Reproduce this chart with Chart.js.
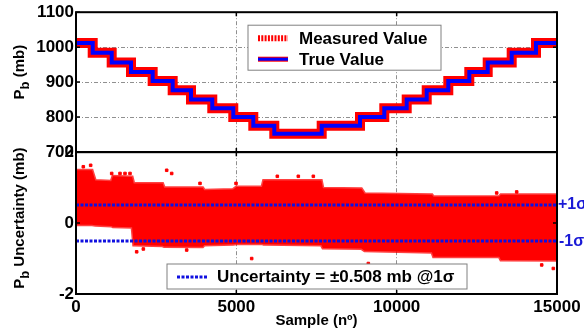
<!DOCTYPE html>
<html>
<head>
<meta charset="utf-8">
<script src="https://cdn.jsdelivr.net/npm/chart.js@4.4.0/dist/chart.umd.min.js"></script>
<style>
  html, body { margin: 0; padding: 0; background: #fff; }
  #wrap { position: relative; width: 584px; height: 333px; overflow: hidden; }
  #wrap canvas { position: absolute; left: 0; }
  #topChart { top: 0; }
  #bottomChart { top: 140px; }
</style>
</head>
<body>
<div id="wrap">
  <canvas id="topChart" width="584" height="172" style="width:584px;height:172px"></canvas>
  <canvas id="bottomChart" width="584" height="193" style="width:584px;height:193px"></canvas>
</div>
<script>
// pressure staircase: sample where each level starts, and the level (mb)
const stepStart = [0, 521, 1113, 1715, 2391, 3015, 3586, 4250, 4905, 5529, 6184, 7662, 8857, 9614, 10313, 10937, 11610, 12265, 12839, 13587, 14345, 15000];
const trueLevels = [1012, 984, 956, 929, 903, 877, 850, 825, 800, 775, 752, 775, 800, 825, 850, 877, 903, 929, 956, 984, 1012, 1012];
const measuredLevels = [1012, 984, 956, 929, 903, 877, 850, 825, 800, 775, 752, 775, 800, 825, 850, 877, 903, 929, 956, 984, 1012, 1012];

// uncertainty cloud: envelope
const bandX = [0, 500, 600, 1100, 1150, 1750, 1800, 2700, 2750, 3950, 4000, 4900, 5000, 5800, 5850, 7650, 7700, 8900, 9000, 11100, 11150, 13200, 13250, 15000];
const bandUpper = [1.49, 1.49, 1.2, 1.18, 1.32, 1.30, 1.12, 1.12, 1.0, 1.0, 0.93, 0.95, 1.02, 1.02, 1.2, 1.2, 0.98, 0.97, 0.83, 0.8, 0.74, 0.75, 0.8, 0.8];
const bandLower = [-0.05, -0.05, -0.06, -0.08, -0.1, -0.12, -0.62, -0.64, -0.66, -0.67, -0.62, -0.6, -0.58, -0.58, -0.6, -0.62, -0.7, -0.72, -0.78, -0.82, -0.95, -0.95, -1.04, -1.05];
// stray points outside the dense band
const outlierX = [228, 457, 1113, 1372, 1528, 1684, 2828, 2984, 3867, 4990, 6278, 6933, 7401, 13119, 13743, 1892, 2100, 3452, 5479, 9116, 14523, 14885];
const outlierY = [1.59, 1.63, 1.40, 1.40, 1.40, 1.40, 1.49, 1.40, 1.12, 1.12, 1.32, 1.32, 1.32, 0.85, 0.88, -0.81, -0.73, -0.76, -1.0, -1.14, -1.18, -1.28];

const uncertainty = 0.508;
const sigmaX = [0, 15000];

const xTicks = [0, 5000, 10000, 15000];
const topTicks = [700, 800, 900, 1000, 1100];
const bottomTicks = [-2, 0, 2];

const FONT = "'Liberation Sans', Arial, sans-serif";
const RED = '#ff0000';
const BLUE = '#0000ff';
const SIGMA_BLUE = '#1010e0';

const pts = (xs, ys) => xs.map((x, i) => ({ x: x, y: ys[i] }));

const gridOpts = { color: '#909090', lineWidth: 1, drawTicks: false };
const dashOpts = { display: false, dash: [4, 2, 1, 2] };
const plainLabel = v => String(v);

// black box + inward tick marks around the plot area
const framePlugin = {
  id: 'frame',
  afterDraw(chart) {
    const { ctx, chartArea: a, scales } = chart;
    ctx.save();
    ctx.strokeStyle = '#000';
    ctx.lineWidth = 1.5;
    scales.y.ticks.forEach(t => {
      const y = scales.y.getPixelForValue(t.value);
      ctx.beginPath();
      ctx.moveTo(a.left, y); ctx.lineTo(a.left + 4, y);
      ctx.moveTo(a.right, y); ctx.lineTo(a.right - 4, y);
      ctx.stroke();
    });
    scales.x.ticks.forEach(t => {
      const x = scales.x.getPixelForValue(t.value);
      ctx.beginPath();
      ctx.moveTo(x, a.top); ctx.lineTo(x, a.top + 4);
      ctx.moveTo(x, a.bottom); ctx.lineTo(x, a.bottom - 4);
      ctx.stroke();
    });
    ctx.lineWidth = 2;
    ctx.strokeRect(a.left, a.top, a.right - a.left, a.bottom - a.top);
    ctx.restore();
  }
};

// rotated y title with a subscript
function drawYTitle(ctx, parts, cx, cy) {
  ctx.save();
  ctx.translate(cx, cy);
  ctx.rotate(-Math.PI / 2);
  ctx.fillStyle = '#000';
  ctx.textBaseline = 'alphabetic';
  ctx.textAlign = 'left';
  let total = 0;
  parts.forEach(p => {
    ctx.font = 'bold ' + (p.sub ? 13 : 15) + 'px ' + FONT;
    p.w = ctx.measureText(p.t).width;
    total += p.w;
  });
  let x = -total / 2;
  parts.forEach(p => {
    ctx.font = 'bold ' + (p.sub ? 13 : 15) + 'px ' + FONT;
    ctx.fillText(p.t, x, p.sub ? 5 : 0);
    x += p.w;
  });
  ctx.restore();
}

function legendLine(ctx, x0, x1, y, color, width, dash) {
  ctx.save();
  ctx.strokeStyle = color;
  ctx.lineWidth = width;
  ctx.setLineDash(dash || []);
  ctx.beginPath();
  ctx.moveTo(x0, y); ctx.lineTo(x1, y);
  ctx.stroke();
  ctx.restore();
}

const topDecor = {
  id: 'topDecor',
  afterDraw(chart) {
    const { ctx, chartArea: a } = chart;
    const mid = (a.top + a.bottom) / 2;
    drawYTitle(ctx, [{ t: 'P' }, { t: 'b', sub: true }, { t: ' (mb)' }], a.left - 52, mid - 10);

    // legend box
    const bx = a.left + 172, by = a.top + 13, bw = 193, bh = 45;
    ctx.save();
    ctx.fillStyle = '#fff';
    ctx.fillRect(bx, by, bw, bh);
    ctx.strokeStyle = '#808080';
    ctx.lineWidth = 1;
    ctx.strokeRect(bx, by, bw, bh);
    const ds = chart.data.datasets;
    const r1 = by + 13, r2 = by + 34;
    legendLine(ctx, bx + 10, bx + 40, r1, RED, 6, [2, 1.3]);
    legendLine(ctx, bx + 10, bx + 40, r2, RED, 5);
    legendLine(ctx, bx + 10, bx + 40, r2, BLUE, 3);
    ctx.fillStyle = '#000';
    ctx.font = 'bold 17px ' + FONT;
    ctx.textBaseline = 'middle';
    ctx.fillText(ds[1].label, bx + 51, r1 + 1);
    ctx.fillText(ds[0].label, bx + 51, r2 + 1);
    ctx.restore();
  }
};

const bottomDecor = {
  id: 'bottomDecor',
  afterDraw(chart) {
    const { ctx, chartArea: a, scales } = chart;
    const mid = (a.top + a.bottom) / 2;
    drawYTitle(ctx, [{ t: 'P' }, { t: 'b', sub: true }, { t: ' Uncertainty (mb)' }], a.left - 52, mid - 5);

    // +/- sigma labels outside the right edge
    ctx.save();
    ctx.fillStyle = '#1a1ad6';
    ctx.font = 'bold 16px ' + FONT;
    ctx.textBaseline = 'middle';
    ctx.fillText('+1σ', a.right + 1, scales.y.getPixelForValue(uncertainty));
    ctx.fillText('-1σ', a.right + 2, scales.y.getPixelForValue(-uncertainty));
    ctx.restore();

    // legend box
    const bx = a.left + 91, by = a.bottom - 30, bw = 300, bh = 25;
    ctx.save();
    ctx.fillStyle = '#fff';
    ctx.fillRect(bx, by, bw, bh);
    ctx.strokeStyle = '#808080';
    ctx.lineWidth = 1;
    ctx.strokeRect(bx, by, bw, bh);
    legendLine(ctx, bx + 10, bx + 40, by + 13, SIGMA_BLUE, 3, [3, 1.5]);
    ctx.fillStyle = '#000';
    ctx.font = 'bold 17px ' + FONT;
    ctx.textBaseline = 'middle';
    ctx.fillText(chart.data.datasets[0].label, bx + 50, by + 13.5);
    ctx.restore();
  }
};

Chart.defaults.font.family = FONT;
Chart.defaults.color = '#000';
Chart.defaults.animation = false;

new Chart(document.getElementById('topChart'), {
  type: 'line',
  data: {
    datasets: [
      {
        label: 'True Value',
        data: pts(stepStart, trueLevels),
        stepped: 'before',
        borderColor: BLUE,
        borderWidth: 4,
        pointRadius: 0,
        fill: false,
        order: 0
      },
      {
        label: 'Measured Value',
        data: pts(stepStart, measuredLevels),
        stepped: 'before',
        borderColor: RED,
        borderWidth: 10,
        pointRadius: 0,
        fill: false,
        order: 1
      }
    ]
  },
  options: {
    responsive: false,
    layout: { padding: { left: 0, right: 27, top: 10, bottom: 20 } },
    plugins: { legend: { display: false }, tooltip: { enabled: false } },
    scales: {
      x: {
        type: 'linear', min: 0, max: 15000,
        afterBuildTicks: s => { s.ticks = xTicks.map(v => ({ value: v })); },
        ticks: { display: false },
        grid: gridOpts,
        border: dashOpts,
        afterFit: s => { s.height = 0; }
      },
      y: {
        min: 700, max: 1100,
        afterBuildTicks: s => { s.ticks = topTicks.map(v => ({ value: v })); },
        ticks: { padding: 2, font: { size: 17, weight: 'bold' }, callback: plainLabel },
        grid: gridOpts,
        border: dashOpts,
        afterFit: s => { s.width = 76; }
      }
    }
  },
  plugins: [framePlugin, topDecor]
});

new Chart(document.getElementById('bottomChart'), {
  type: 'line',
  data: {
    datasets: [
      {
        label: 'Uncertainty = ±' + uncertainty.toFixed(3) + ' mb @1σ',
        data: pts(sigmaX, [uncertainty, uncertainty]),
        borderColor: SIGMA_BLUE,
        borderWidth: 3,
        borderDash: [3, 1.5],
        pointRadius: 0,
        fill: false,
        order: 0
      },
      {
        label: '-1σ',
        data: pts(sigmaX, [-uncertainty, -uncertainty]),
        borderColor: SIGMA_BLUE,
        borderWidth: 3,
        borderDash: [3, 1.5],
        pointRadius: 0,
        fill: false,
        order: 0
      },
      {
        label: 'outliers',
        type: 'scatter',
        data: pts(outlierX, outlierY),
        backgroundColor: RED,
        borderColor: RED,
        pointStyle: 'rect',
        pointRadius: 1.8,
        order: 2
      },
      {
        label: 'upper',
        data: pts(bandX, bandUpper),
        borderColor: 'rgba(255,0,0,0.75)',
        borderWidth: 3,
        backgroundColor: RED,
        pointRadius: 0,
        fill: '+1',
        order: 3
      },
      {
        label: 'lower',
        data: pts(bandX, bandLower),
        borderColor: 'rgba(255,0,0,0.75)',
        borderWidth: 3,
        pointRadius: 0,
        fill: false,
        order: 3
      }
    ]
  },
  options: {
    responsive: false,
    layout: { padding: { left: 0, right: 27, top: 12, bottom: 0 } },
    plugins: { legend: { display: false }, tooltip: { enabled: false } },
    scales: {
      x: {
        type: 'linear', min: 0, max: 15000,
        afterBuildTicks: s => { s.ticks = xTicks.map(v => ({ value: v })); },
        ticks: { padding: 3, maxRotation: 0, font: { size: 17, weight: 'bold' }, callback: plainLabel },
        grid: gridOpts,
        border: dashOpts,
        title: { display: true, text: 'Sample (nº)', font: { size: 15, weight: 'bold' }, padding: { top: 0, bottom: 3 } },
        afterFit: s => { s.height = 39; }
      },
      y: {
        min: -2, max: 2,
        afterBuildTicks: s => { s.ticks = bottomTicks.map(v => ({ value: v })); },
        ticks: { padding: 2, font: { size: 17, weight: 'bold' }, callback: plainLabel },
        grid: gridOpts,
        border: dashOpts,
        afterFit: s => { s.width = 76; }
      }
    }
  },
  plugins: [framePlugin, bottomDecor]
});
</script>
</body>
</html>
